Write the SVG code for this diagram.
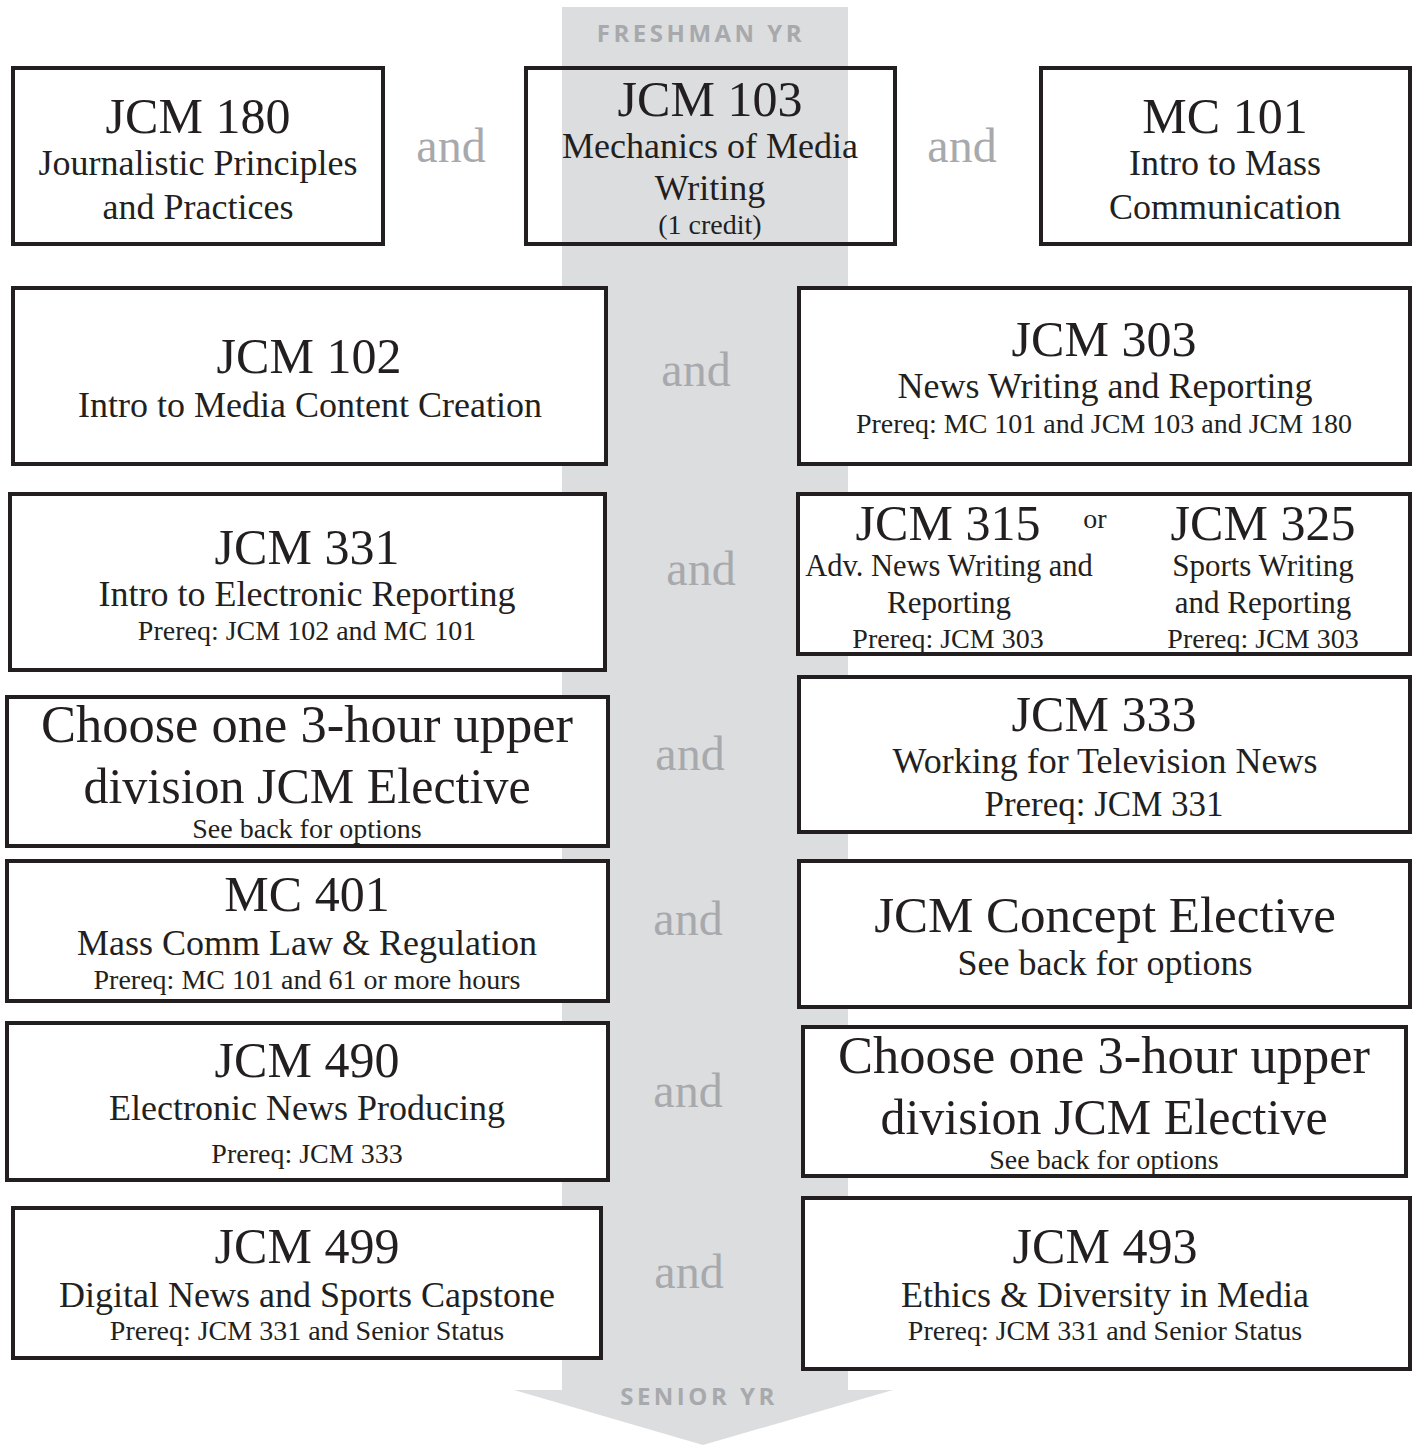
<svg xmlns="http://www.w3.org/2000/svg" width="1416" height="1445" viewBox="0 0 1416 1445">
<style>
.box{fill:#fff;stroke:#231f20;stroke-width:4}
.open{fill:none;stroke:#231f20;stroke-width:4}
text{font-family:"Liberation Serif","Times New Roman",serif;fill:#231f20;text-anchor:middle}
.t{font-size:50px}
.c{font-size:52.5px}
.d{font-size:50px}
.s{font-size:36px}
.p{font-size:28px}
.m{font-size:31px}
.and{font-size:48px;fill:#a7a9ac}
.yr{font-family:"Open Sans","DejaVu Sans",sans-serif;font-weight:bold;font-size:24px;fill:#a7a9ac;letter-spacing:3.5px}
</style>
<rect width="1416" height="1445" fill="#fff"/>
<g id="timeline">
<path d="M562 7 H848 V1390 H893 L703 1445 L514 1390 H562 Z" fill="#dcdddf"/>
<text class="yr" x="701" y="42">FRESHMAN YR</text>
<text class="yr" x="699" y="1405">SENIOR YR</text>
</g>
<g id="connectors">
<text class="and" x="451" y="162">and</text>
<text class="and" x="962" y="162">and</text>
<text class="and" x="696" y="386">and</text>
<text class="and" x="701" y="585">and</text>
<text class="and" x="690" y="770">and</text>
<text class="and" x="688" y="935">and</text>
<text class="and" x="688" y="1107">and</text>
<text class="and" x="689" y="1288">and</text>
</g>
<g id="jcm180">
<rect class="box" x="13" y="68" width="370" height="176"/>
<text class="t" x="198" y="133">JCM 180</text>
<text class="s" x="198" y="175">Journalistic Principles</text>
<text class="s" x="198" y="219">and Practices</text>
</g>
<g id="jcm103">
<rect class="open" x="526" y="68" width="369" height="176"/>
<text class="t" x="710" y="116">JCM 103</text>
<text class="s" x="710" y="158">Mechanics of Media</text>
<text class="s" x="710" y="200">Writing</text>
<text class="p" x="710" y="234">(1 credit)</text>
</g>
<g id="mc101">
<rect class="box" x="1041" y="68" width="369" height="176"/>
<text class="t" x="1225" y="133">MC 101</text>
<text class="s" x="1225" y="175">Intro to Mass</text>
<text class="s" x="1225" y="219">Communication</text>
</g>
<g id="jcm102">
<rect class="box" x="13" y="288" width="593" height="176"/>
<text class="t" x="309" y="373">JCM 102</text>
<text class="s" x="310" y="417">Intro to Media Content Creation</text>
</g>
<g id="jcm303">
<rect class="box" x="799" y="288" width="611" height="176"/>
<text class="t" x="1104" y="356">JCM 303</text>
<text class="s" x="1105" y="398">News Writing and Reporting</text>
<text class="p" x="1104" y="433">Prereq: MC 101 and JCM 103 and JCM 180</text>
</g>
<g id="jcm331">
<rect class="box" x="10" y="494" width="595" height="176"/>
<text class="t" x="307" y="564">JCM 331</text>
<text class="s" x="307" y="606">Intro to Electronic Reporting</text>
<text class="p" x="307" y="640">Prereq: JCM 102 and MC 101</text>
</g>
<g id="jcm315-325">
<rect class="box" x="798" y="494" width="612" height="160"/>
<text class="t" x="948" y="540">JCM 315</text>
<text class="p" x="1095" y="528">or</text>
<text class="t" x="1263" y="540">JCM 325</text>
<text class="m" x="949" y="576" style="font-size:30.5px">Adv. News Writing and</text>
<text class="m" x="949" y="613">Reporting</text>
<text class="p" x="948" y="648">Prereq: JCM 303</text>
<text class="m" x="1263" y="576">Sports Writing</text>
<text class="m" x="1263" y="613">and Reporting</text>
<text class="p" x="1263" y="648">Prereq: JCM 303</text>
</g>
<g id="elective-left">
<rect class="box" x="7" y="697" width="601" height="149"/>
<text class="c" x="307" y="742">Choose one 3-hour upper</text>
<text class="d" x="307" y="803">division JCM Elective</text>
<text class="p" x="307" y="838">See back for options</text>
</g>
<g id="jcm333">
<rect class="box" x="799" y="677" width="611" height="155"/>
<text class="t" x="1104" y="731">JCM 333</text>
<text class="s" x="1105" y="773">Working for Television News</text>
<text class="s" x="1104" y="816" style="font-size:35px">Prereq: JCM 331</text>
</g>
<g id="mc401">
<rect class="box" x="7" y="861" width="601" height="140"/>
<text class="t" x="307" y="911">MC 401</text>
<text class="s" x="307" y="955">Mass Comm Law &amp; Regulation</text>
<text class="p" x="307" y="989">Prereq: MC 101 and 61 or more hours</text>
</g>
<g id="concept-elective">
<rect class="box" x="799" y="861" width="611" height="146"/>
<text class="t" x="1105" y="932" style="font-size:51px">JCM Concept Elective</text>
<text class="s" x="1105" y="975">See back for options</text>
</g>
<g id="jcm490">
<rect class="box" x="7" y="1023" width="601" height="157"/>
<text class="t" x="307" y="1077">JCM 490</text>
<text class="s" x="307" y="1120">Electronic News Producing</text>
<text class="p" x="307" y="1163">Prereq: JCM 333</text>
</g>
<g id="elective-right">
<rect class="box" x="803" y="1027" width="603" height="149"/>
<text class="c" x="1104" y="1073">Choose one 3-hour upper</text>
<text class="d" x="1104" y="1134">division JCM Elective</text>
<text class="p" x="1104" y="1169">See back for options</text>
</g>
<g id="jcm499">
<rect class="box" x="13" y="1208" width="588" height="150"/>
<text class="t" x="307" y="1263">JCM 499</text>
<text class="s" x="307" y="1307">Digital News and Sports Capstone</text>
<text class="p" x="307" y="1340">Prereq: JCM 331 and Senior Status</text>
</g>
<g id="jcm493">
<rect class="box" x="803" y="1198" width="607" height="171"/>
<text class="t" x="1105" y="1263">JCM 493</text>
<text class="s" x="1105" y="1307">Ethics &amp; Diversity in Media</text>
<text class="p" x="1105" y="1340">Prereq: JCM 331 and Senior Status</text>
</g>
</svg>
